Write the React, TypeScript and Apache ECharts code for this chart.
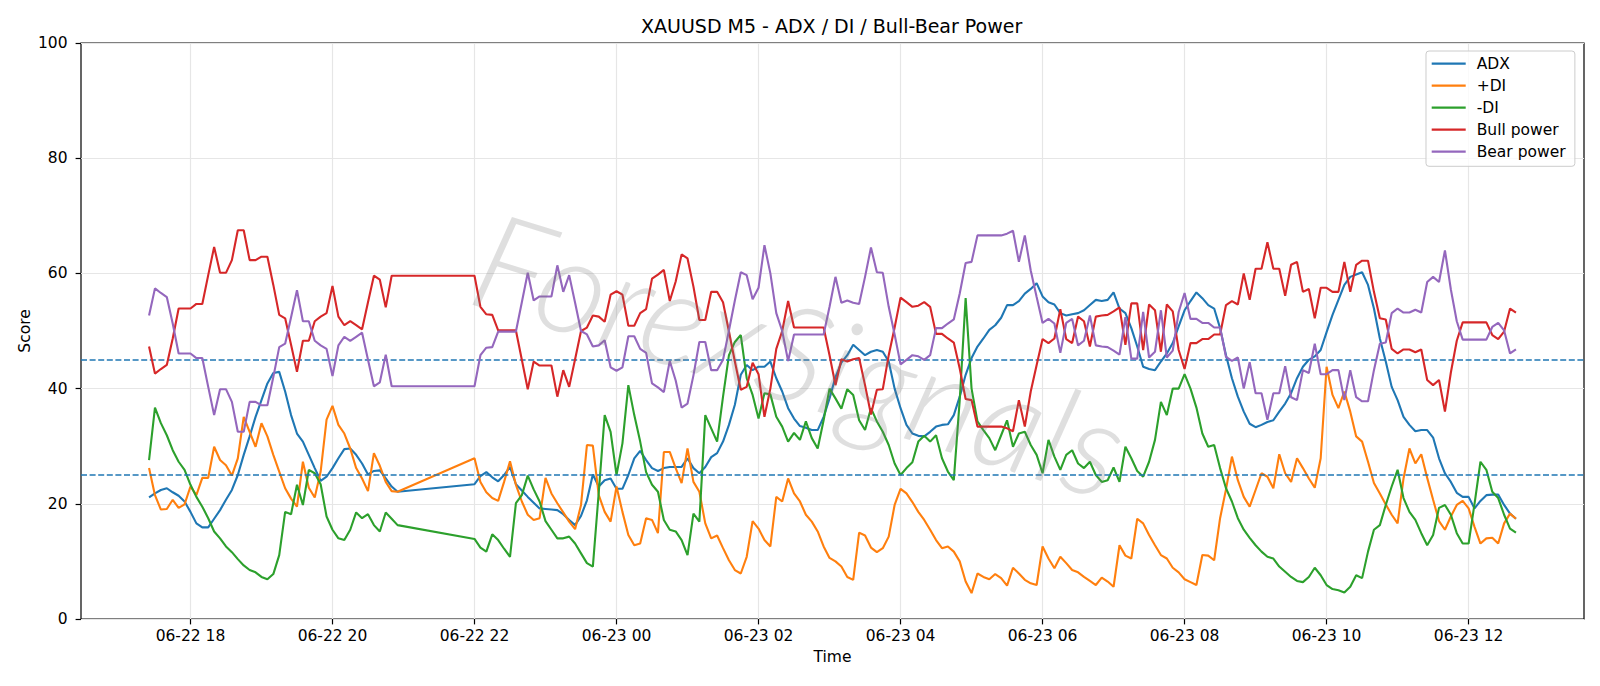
import React, { useEffect, useRef } from "react";
import * as echarts from "echarts";

// 5-minute slots on one continuous clock; the axis carries padding slots on both ends
const SLOT_MINUTES = 5;
const AXIS_START_MIN = 16 * 60 + 30; // 06-22 16:30
const LEAD_SLOTS = 11; // 16:30 .. 17:20
const BREAK_SLOTS = 12; // 21:00 .. 21:55, market break
const TRAIL_SLOTS = 11; // 12:45 .. 13:35

const seriesNames = ["ADX", "+DI", "-DI", "Bull power", "Bear power"];
const seriesColors = ["#1f77b4", "#ff7f0e", "#2ca02c", "#d62728", "#9467bd"];
const thresholds = [45, 25];
const scoreMin = 0;
const scoreMax = 100;
const scoreStep = 20;

// Session 1: 06-22 17:25 .. 20:55
const adxA = [
  21.1, 21.8, 22.4, 22.7, 22.0, 21.4, 20.4, 18.6, 16.6, 15.9,
  15.9, 17.4, 18.9, 20.7, 22.4, 25.0, 28.5, 31.7, 35.1, 38.0,
  40.9, 42.7, 42.9, 39.5, 35.4, 32.2, 30.8, 28.5, 26.2, 24.0,
  24.7, 26.2, 27.9, 29.5, 29.6, 28.5, 27.0, 25.1, 25.7, 25.8,
  24.4, 23.0, 22.1,
];
const plusDiA = [
  26.2, 21.5, 19.0, 19.1, 20.7, 19.3, 19.9, 23.0, 21.5, 24.5,
  24.5, 29.9, 27.6, 26.7, 24.9, 27.9, 35.1, 32.5, 29.9, 34.0,
  31.7, 28.5, 25.6, 22.7, 20.9, 19.5, 27.3, 22.8, 21.1, 25.6,
  34.6, 37.0, 33.7, 32.2, 29.6, 26.2, 24.4, 22.2, 28.8, 26.6,
  23.8, 22.2, 22.1,
];
const minusDiA = [
  27.6, 36.7, 34.0, 31.9, 29.3, 27.3, 25.9, 23.3, 21.2, 19.5,
  17.5, 15.2, 14.0, 12.6, 11.6, 10.4, 9.3, 8.5, 8.1, 7.3,
  6.9, 7.8, 11.1, 18.6, 18.2, 23.3, 19.8, 25.9, 25.3, 23.4,
  17.8, 15.5, 14.0, 13.7, 15.5, 18.5, 17.5, 18.2, 16.3, 15.2,
  18.5, 17.4, 16.3,
];
const bullA = [
  47.3, 42.6, 43.4, 44.1, 48.7, 53.9, 53.9, 53.9, 54.7, 54.7,
  59.7, 64.6, 60.1, 60.1, 62.3, 67.5, 67.5, 62.3, 62.3, 62.9,
  62.9, 58.0, 52.8, 52.2, 47.6, 42.9, 48.3, 48.3, 51.7, 52.5,
  53.1, 57.8, 52.5, 51.0, 51.7, 51.0, 50.3, 55.0, 59.6, 58.9,
  54.1, 59.6, 59.6,
];
const bearA = [
  52.7, 57.4, 56.6, 55.9, 51.3, 46.1, 46.1, 46.1, 45.3, 45.3,
  40.3, 35.4, 39.9, 39.9, 37.7, 32.5, 32.5, 37.7, 37.7, 37.1,
  37.1, 42.0, 47.2, 47.8, 52.4, 57.1, 51.7, 51.7, 48.3, 47.5,
  46.9, 42.2, 47.5, 49.0, 48.3, 49.0, 49.7, 45.0, 40.4, 41.1,
  45.9, 40.4, 40.4,
];

// Session 2: 06-22 22:00 .. 06-23 12:40
const adxB = [
  23.4, 24.8, 25.5, 24.6, 23.9, 25.0, 26.4, 23.4, 22.3, 21.2,
  20.2, 19.2, 19.1, 19.0, 18.9, 18.2, 17.2, 16.3, 17.9, 20.6,
  25.1, 23.0, 24.1, 24.4, 22.6, 22.6, 25.0, 27.9, 29.2, 27.6,
  26.2, 25.7, 26.2, 26.4, 26.4, 26.4, 27.9, 26.2, 25.3, 26.4,
  28.1, 28.8, 30.8, 33.7, 37.2, 42.4, 44.1, 43.2, 43.8, 43.8,
  44.7, 41.8, 39.5, 36.6, 34.8, 33.5, 33.2, 32.8, 32.8, 35.1,
  38.3, 42.0, 44.5, 45.8, 47.6, 46.7, 45.8, 46.4, 46.7, 46.4,
  44.7, 40.0, 36.6, 33.7, 32.2, 31.8, 31.7, 32.5, 33.4, 33.7,
  33.8, 35.4, 38.6, 42.4, 45.3, 47.3, 48.7, 50.2, 51.0, 52.3,
  54.5, 54.5, 55.2, 56.5, 57.3, 58.3, 56.0, 55.0, 54.6, 53.1,
  52.7, 52.9, 53.1, 53.6, 54.5, 55.4, 55.2, 55.4, 56.7, 53.9,
  53.1, 50.5, 47.3, 43.8, 43.4, 43.2, 44.7, 46.1, 47.9, 50.8,
  53.6, 55.2, 56.7, 55.7, 54.5, 53.9, 50.5, 45.8, 41.8, 38.6,
  36.0, 33.9, 33.3, 33.7, 34.2, 34.5, 36.0, 37.4, 39.2, 41.8,
  43.8, 45.0, 45.6, 46.7, 49.8, 52.8, 55.4, 58.0, 59.4, 59.8,
  60.2, 58.0, 53.9, 48.7, 44.7, 40.3, 38.0, 35.1, 33.7, 32.6,
  32.8, 32.8, 31.5, 27.9, 25.3, 23.8, 21.9, 21.2, 21.2, 19.2,
  20.5, 21.5, 21.6, 21.6, 19.8, 18.3, 17.4,
];
const plusDiB = [
  27.9, 23.8, 22.0, 21.0, 20.5, 23.8, 27.4, 23.3, 20.4, 18.1,
  17.2, 17.5, 24.5, 21.8, 20.1, 18.5, 16.9, 15.6, 19.8, 30.2,
  30.1, 21.5, 18.6, 16.9, 23.0, 18.6, 14.6, 12.8, 13.1, 17.5,
  17.2, 14.9, 29.0, 29.0, 26.2, 23.6, 29.6, 23.8, 22.1, 16.6,
  14.0, 14.5, 12.3, 10.2, 8.5, 7.9, 10.8, 17.0, 15.7, 13.7,
  12.6, 21.2, 20.4, 24.4, 21.8, 20.4, 18.1, 16.9, 15.2, 12.6,
  10.6, 10.0, 9.1, 7.3, 6.8, 15.0, 14.5, 12.4, 11.6, 12.3,
  14.3, 19.8, 22.6, 21.8, 20.3, 18.6, 17.2, 15.5, 13.7, 12.3,
  12.6, 11.7, 10.0, 6.5, 4.5, 7.9, 7.3, 6.9, 7.8, 7.1,
  5.8, 8.9, 7.9, 6.8, 6.2, 5.9, 12.6, 10.5, 8.8, 10.8,
  9.7, 8.5, 8.1, 7.3, 6.6, 5.9, 7.2, 6.5, 5.6, 12.8,
  11.0, 10.5, 17.4, 16.6, 14.6, 12.8, 11.1, 10.5, 8.9, 8.1,
  6.9, 6.4, 5.9, 11.1, 11.0, 10.2, 17.5, 22.5, 28.2, 24.1,
  21.2, 19.5, 22.4, 25.3, 24.7, 22.7, 28.6, 25.3, 23.8, 27.9,
  26.2, 24.4, 22.8, 27.9, 43.8, 38.9, 36.6, 39.5, 36.0, 31.7,
  30.8, 27.3, 23.6, 21.8, 19.9, 18.1, 16.6, 24.4, 29.6, 27.0,
  28.6, 24.5, 20.7, 17.0, 15.5, 17.8, 19.8, 20.5, 19.2, 16.0,
  13.1, 14.0, 14.1, 13.1, 16.6, 18.3, 17.4,
];
const minusDiB = [
  13.9, 12.4, 11.7, 14.7, 13.7, 12.2, 10.8, 20.1, 21.5, 24.9,
  22.5, 20.4, 17.0, 15.5, 14.0, 14.0, 14.3, 13.1, 11.4, 9.7,
  9.1, 22.0, 35.4, 32.5, 25.0, 30.5, 40.6, 35.4, 30.8, 25.5,
  23.3, 22.1, 17.2, 15.5, 15.2, 13.7, 11.1, 18.3, 16.9, 35.4,
  33.1, 30.8, 38.6, 45.8, 48.1, 49.3, 41.8, 38.9, 34.8, 39.2,
  39.0, 35.1, 33.4, 30.8, 32.3, 31.1, 34.3, 31.4, 29.6, 34.5,
  40.0, 38.3, 36.5, 39.9, 38.9, 34.5, 32.8, 36.6, 34.3, 32.5,
  30.2, 27.0, 25.0, 26.2, 27.2, 30.8, 31.8, 30.8, 31.9, 27.9,
  25.6, 24.1, 38.0, 55.7, 40.0, 34.3, 32.8, 31.4, 29.3, 31.9,
  34.5, 29.9, 32.2, 32.5, 30.2, 28.5, 25.3, 31.1, 28.2, 25.9,
  28.5, 29.3, 27.0, 26.2, 27.3, 25.0, 23.8, 24.1, 26.3, 23.8,
  29.9, 27.9, 25.7, 24.7, 27.3, 31.1, 37.7, 35.4, 40.0, 40.0,
  42.5, 40.0, 36.7, 32.2, 29.9, 30.2, 26.2, 22.7, 20.4, 17.5,
  15.5, 14.1, 12.8, 11.7, 10.8, 10.5, 9.1, 8.2, 7.3, 6.6,
  6.4, 7.3, 8.9, 7.6, 5.9, 5.2, 5.0, 4.6, 5.6, 7.6,
  7.1, 11.7, 15.5, 16.3, 19.8, 23.0, 25.9, 21.0, 18.6, 17.2,
  14.9, 12.8, 14.6, 19.3, 19.8, 18.1, 14.9, 13.1, 13.1, 20.0,
  27.3, 25.9, 22.1, 21.0, 18.1, 15.7, 15.0,
];
const bullB = [
  59.6, 54.2, 52.9, 52.8, 50.1, 50.1, 50.1, 50.1, 45.0, 39.9,
  44.7, 44.0, 44.0, 44.0, 38.6, 43.2, 40.3, 45.1, 50.0, 50.6,
  52.7, 52.5, 51.6, 56.3, 56.9, 56.3, 50.9, 50.9, 53.1, 53.8,
  59.1, 59.8, 60.6, 55.2, 58.6, 63.3, 62.6, 57.7, 51.9, 51.9,
  56.8, 56.8, 55.0, 49.9, 44.7, 39.8, 40.3, 44.5, 42.5, 35.1,
  40.0, 46.9, 50.0, 55.2, 50.6, 50.6, 50.6, 50.6, 50.6, 50.6,
  45.8, 40.6, 45.1, 44.7, 45.1, 45.3, 40.6, 35.5, 39.8, 39.9,
  45.8, 50.6, 55.8, 55.0, 54.2, 54.4, 55.0, 54.2, 49.5, 49.5,
  48.7, 48.0, 43.5, 38.2, 38.0, 33.4, 33.4, 33.4, 33.4, 33.4,
  33.1, 32.6, 38.0, 33.4, 39.5, 44.1, 48.6, 47.9, 48.7, 53.8,
  48.6, 47.9, 52.5, 51.7, 47.3, 52.5, 52.7, 52.8, 53.4, 54.1,
  47.6, 54.8, 54.8, 46.7, 54.6, 53.6, 46.4, 54.6, 53.4, 46.7,
  43.4, 47.9, 47.9, 48.6, 48.6, 49.4, 49.4, 54.5, 55.2, 54.6,
  60.0, 55.4, 60.8, 60.8, 65.4, 60.8, 60.8, 56.1, 61.5, 62.0,
  56.8, 57.3, 52.2, 57.5, 57.5, 56.8, 56.8, 62.0, 56.8, 61.5,
  62.2, 62.2, 56.8, 52.2, 52.0, 46.9, 46.1, 46.8, 46.8, 46.3,
  46.8, 41.5, 40.6, 41.5, 36.0, 42.8, 48.3, 51.5, 51.5, 51.5,
  51.5, 51.5, 49.3, 48.6, 49.9, 53.9, 53.2,
];
const bearB = [
  40.4, 45.8, 47.1, 47.2, 49.9, 49.9, 49.9, 49.9, 55.0, 60.1,
  55.3, 56.0, 56.0, 56.0, 61.4, 56.8, 59.7, 54.9, 50.0, 49.4,
  47.3, 47.5, 48.4, 43.7, 43.1, 43.7, 49.1, 49.1, 46.9, 46.2,
  40.9, 40.2, 39.4, 44.8, 41.4, 36.7, 37.4, 42.3, 48.1, 48.1,
  43.2, 43.2, 45.0, 50.1, 55.3, 60.2, 59.7, 55.5, 57.5, 64.9,
  60.0, 53.1, 50.0, 44.8, 49.4, 49.4, 49.4, 49.4, 49.4, 49.4,
  54.2, 59.4, 54.9, 55.3, 54.9, 54.7, 59.4, 64.5, 60.2, 60.1,
  54.2, 49.4, 44.2, 45.0, 45.8, 45.6, 45.0, 45.8, 50.5, 50.5,
  51.3, 52.0, 56.5, 61.8, 62.0, 66.6, 66.6, 66.6, 66.6, 66.6,
  66.9, 67.4, 62.0, 66.6, 60.5, 55.9, 51.4, 52.1, 51.3, 46.2,
  51.4, 52.1, 47.5, 48.3, 52.7, 47.5, 47.3, 47.2, 46.6, 45.9,
  52.4, 45.2, 45.2, 53.3, 45.4, 46.4, 53.6, 45.4, 46.6, 53.3,
  56.6, 52.1, 52.1, 51.4, 51.4, 50.6, 50.6, 45.5, 44.8, 45.4,
  40.0, 44.6, 39.2, 39.2, 34.6, 39.2, 39.2, 43.9, 38.5, 38.0,
  43.2, 42.7, 47.8, 42.5, 42.5, 43.2, 43.2, 38.0, 43.2, 38.5,
  37.8, 37.8, 43.2, 47.8, 48.0, 53.1, 53.9, 53.2, 53.2, 53.7,
  53.2, 58.5, 59.4, 58.5, 64.0, 57.2, 51.7, 48.5, 48.5, 48.5,
  48.5, 48.5, 50.7, 51.4, 50.1, 46.1, 46.8,
];

const FONT = "DejaVu Sans";

const pad2 = (n: number) => String(n).padStart(2, "0");

function slotLabel(i: number): string {
  const m = AXIS_START_MIN + i * SLOT_MINUTES;
  const day = 22 + Math.floor(m / 1440);
  const h = Math.floor((m % 1440) / 60);
  return `06-${day} ${pad2(h)}:${pad2(m % 60)}`;
}

function onSlots(a: number[], b: number[]): (number | null)[] {
  const blank = (n: number) => new Array(n).fill(null);
  return [...blank(LEAD_SLOTS), ...a, ...blank(BREAK_SLOTS), ...b, ...blank(TRAIL_SLOTS)];
}

const slotCount = LEAD_SLOTS + adxA.length + BREAK_SLOTS + adxB.length + TRAIL_SLOTS;
const categories = Array.from({ length: slotCount }, (_, i) => slotLabel(i));

// labels, ticks and grid lines every two hours on the hour
const everyTwoHours = (_i: number, v: string) =>
  v.endsWith(":00") && Number(v.slice(6, 8)) % 2 === 0;

export default function App() {
  const ref = useRef<HTMLDivElement>(null);

  useEffect(() => {
    if (!ref.current) return;
    const chart = echarts.init(ref.current, undefined, { renderer: "svg" });

    const values = [
      onSlots(adxA, adxB),
      onSlots(plusDiA, plusDiB),
      onSlots(minusDiA, minusDiB),
      onSlots(bullA, bullB),
      onSlots(bearA, bearB),
    ];

    const series: any[] = seriesNames.map((name, i) => ({
      name,
      type: "line",
      data: values[i],
      connectNulls: true,
      symbol: "none",
      showSymbol: false,
      smooth: false,
      color: seriesColors[i],
      itemStyle: { color: seriesColors[i] },
      lineStyle: { color: seriesColors[i], width: 2.1 },
      emphasis: { disabled: true },
      silent: true,
      z: 2 + i,
    }));

    series[series.length - 1].markLine = {
      silent: true,
      symbol: ["none", "none"],
      label: { show: false },
      lineStyle: { color: "#1f77b4", type: [6, 2.6], width: 1.5 },
      emphasis: { disabled: true },
      data: thresholds.map((v) => ({ yAxis: v })),
    };

    chart.setOption({
      animation: false,
      backgroundColor: "#ffffff",
      textStyle: { fontFamily: FONT },
      title: {
        text: "XAUUSD M5 - ADX / DI / Bull-Bear Power",
        left: 641,
        top: 16,
        padding: 0,
        textStyle: { fontFamily: FONT, fontSize: 19, fontWeight: "normal", color: "#000" },
      },
      legend: {
        data: seriesNames,
        orient: "vertical",
        left: 1426,
        top: 51,
        icon: "rect",
        itemWidth: 34,
        itemHeight: 2.3,
        itemGap: 0,
        padding: [1.6, 9.3, 3.7, 5.7],
        backgroundColor: "rgba(255,255,255,0.8)",
        borderColor: "#cccccc",
        borderWidth: 1,
        borderRadius: 3,
        selectedMode: false,
        textStyle: {
          fontFamily: FONT,
          fontSize: 15.5,
          color: "#000",
          lineHeight: 22,
          padding: [0, 0, 0, 6],
        },
      },
      grid: {
        left: 81,
        right: 16,
        top: 43,
        bottom: 67,
        show: true,
        borderColor: "#000",
        borderWidth: 1.2,
        backgroundColor: "transparent",
      },
      xAxis: {
        type: "category",
        data: categories,
        boundaryGap: true,
        name: "Time",
        nameLocation: "middle",
        nameGap: 29,
        nameTextStyle: { fontFamily: FONT, fontSize: 15.5, color: "#000" },
        axisLine: { show: false },
        axisTick: {
          show: true,
          interval: everyTwoHours,
          alignWithLabel: true,
          length: 5.4,
          lineStyle: { color: "#000", width: 1.2 },
        },
        axisLabel: {
          interval: everyTwoHours,
          formatter: (v: string) => v.slice(0, 8),
          fontFamily: FONT,
          fontSize: 15.5,
          color: "#000",
          margin: 9,
        },
        splitLine: {
          show: true,
          interval: everyTwoHours,
          alignWithLabel: true,
          lineStyle: { color: "#e6e6e6", width: 1.2 },
        },
      },
      yAxis: {
        type: "value",
        min: scoreMin,
        max: scoreMax,
        interval: scoreStep,
        axisLine: { show: false },
        axisTick: { show: true, length: 5.4, lineStyle: { color: "#000", width: 1.2 } },
        axisLabel: { fontFamily: FONT, fontSize: 15.5, color: "#000", margin: 13.5 },
        splitLine: { show: true, lineStyle: { color: "#e6e6e6", width: 1.2 } },
      },
      graphic: [
        {
          // y-axis title, centred on the plot height
          type: "text",
          x: 25,
          y: 331,
          rotation: Math.PI / 2,
          silent: true,
          style: {
            text: "Score",
            fontFamily: FONT,
            fontSize: 15.5,
            fill: "#000",
            align: "center",
            verticalAlign: "middle",
          },
        },
        {
          type: "text",
          x: 801,
          y: 352,
          rotation: -0.3,
          silent: true,
          z: 100,
          style: {
            text: "ForexSignals",
            fontFamily: "Lato",
            fontStyle: "italic",
            fontWeight: 300,
            fontSize: 135,
            fill: "rgba(120,120,120,0.24)",
            align: "center",
            verticalAlign: "middle",
            shadowColor: "rgba(0,0,0,0.08)",
            shadowBlur: 2,
            shadowOffsetX: 3,
            shadowOffsetY: 4,
          },
        },
      ],
      series,
    });

    return () => chart.dispose();
  }, []);

  return (
    <div
      ref={ref}
      style={{ position: "fixed", left: 0, top: 0, width: 1600, height: 686 }}
    />
  );
}
